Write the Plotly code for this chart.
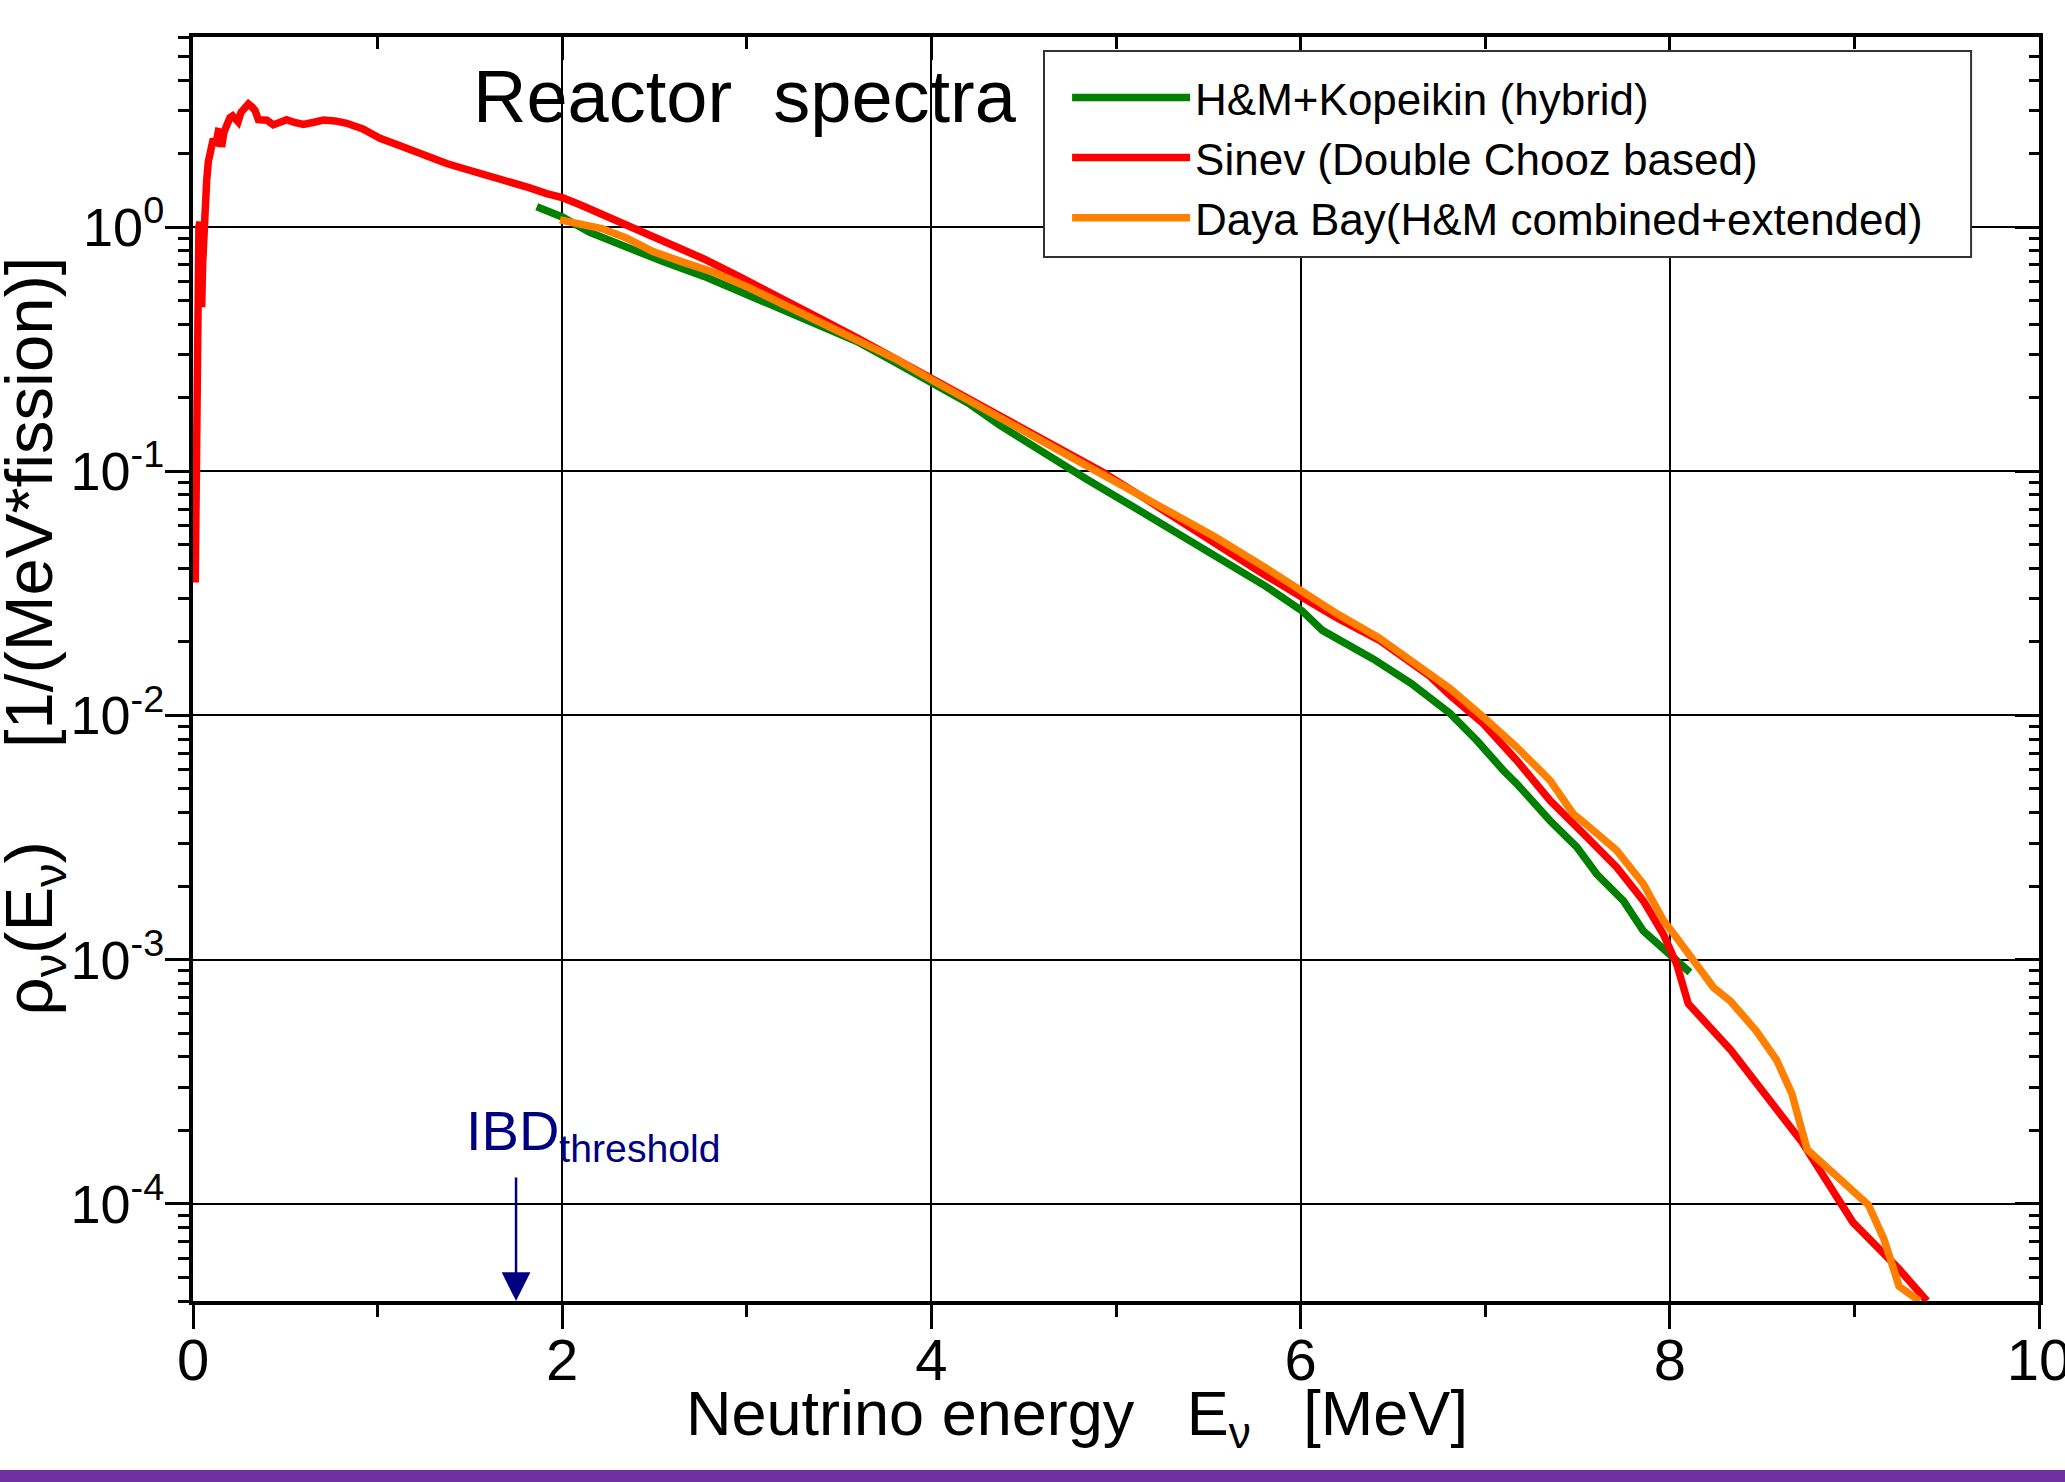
import numpy as np
import plotly.graph_objects as go

# ---------------- data ----------------
red_x = [0.012, 0.016, 0.020, 0.026, 0.032, 0.038, 0.043, 0.047, 0.052, 0.058, 0.066, 0.074,
         0.083, 0.092, 0.100, 0.110, 0.122, 0.137, 0.148, 0.155, 0.168, 0.182, 0.200, 0.215,
         0.244, 0.260, 0.273, 0.300, 0.320, 0.336, 0.354, 0.380, 0.400, 0.435, 0.470, 0.507,
         0.550, 0.598, 0.650, 0.706, 0.770, 0.833, 0.920, 1.013, 1.100, 1.193, 1.280, 1.374,
         1.460, 1.555, 1.645, 1.735, 1.820, 1.916, 2.000, 2.100, 2.200, 2.354, 2.550, 2.768,
         2.970, 3.183, 3.390, 3.597, 3.800, 4.000, 4.200, 4.426, 4.680, 4.924, 5.160, 5.394,
         5.600, 5.807, 6.008, 6.200, 6.423, 6.699, 6.809, 6.990, 7.171, 7.351, 7.532, 7.712,
         7.857, 7.965, 8.037, 8.091, 8.100, 8.330, 8.495, 8.716, 8.992, 9.242, 9.393]
red_y = [0.035, 0.10, 0.30, 0.75, 1.00, 1.05, 0.60, 0.47, 0.70, 1.00, 1.20, 1.55,
         1.85, 2.07, 2.05, 2.30, 2.15, 2.46, 2.45, 2.13, 2.45, 2.60, 2.80, 2.85,
         2.70, 2.95, 3.02, 3.19, 3.10, 3.00, 2.75, 2.72, 2.74, 2.62, 2.68, 2.75,
         2.68, 2.63, 2.68, 2.74, 2.72, 2.66, 2.52, 2.31, 2.18, 2.04, 1.93, 1.82,
         1.74, 1.66, 1.60, 1.53, 1.45, 1.37, 1.32, 1.23, 1.14, 1.02, 0.87, 0.74,
         0.62, 0.515, 0.425, 0.352, 0.29, 0.237, 0.195, 0.159, 0.125, 0.0995, 0.077, 0.059,
         0.047, 0.0376, 0.0305, 0.025, 0.0204, 0.0145, 0.0121, 0.00925, 0.00654, 0.00449, 0.00328, 0.00239,
         0.00174, 0.00127, 0.00096, 0.000724, 0.00066, 0.000427, 0.000296, 0.000179, 8.4e-5, 5.4e-5, 4.0e-5]

green_x = [1.862, 2.000, 2.150, 2.354, 2.550, 2.768, 2.970, 3.183, 3.390, 3.597, 3.800, 4.000,
           4.200, 4.372, 4.600, 4.841, 5.100, 5.367, 5.550, 5.814, 6.008, 6.118, 6.395, 6.600,
           6.809, 6.954, 7.098, 7.171, 7.351, 7.496, 7.604, 7.749, 7.857, 7.983, 8.109]
green_y = [1.21, 1.10, 0.95, 0.82, 0.72, 0.628, 0.54, 0.462, 0.395, 0.34, 0.28, 0.229,
           0.19, 0.154, 0.12, 0.0927, 0.071, 0.054, 0.045, 0.0337, 0.0268, 0.0223, 0.017, 0.0135,
           0.0102, 0.0079, 0.00596, 0.00525, 0.00371, 0.00289, 0.00224, 0.00174, 0.00131, 0.00109, 0.000887]

orange_x = [1.988, 2.100, 2.215, 2.350, 2.492, 2.650, 2.824, 3.000, 3.183, 3.390, 3.597, 3.800,
            4.000, 4.200, 4.426, 4.680, 4.924, 5.200, 5.533, 5.807, 6.008, 6.200, 6.423, 6.620,
            6.809, 6.990, 7.171, 7.351, 7.477, 7.532, 7.712, 7.857, 7.965, 8.037, 8.127, 8.236,
            8.330, 8.467, 8.578, 8.661, 8.744, 8.910, 9.076, 9.159, 9.242, 9.352]
orange_y = [1.07, 1.02, 0.986, 0.90, 0.794, 0.72, 0.651, 0.57, 0.488, 0.41, 0.346, 0.29,
            0.237, 0.195, 0.156, 0.123, 0.096, 0.074, 0.054, 0.0404, 0.0322, 0.026, 0.0208, 0.0163,
            0.0129, 0.00985, 0.00741, 0.00542, 0.00395, 0.00366, 0.0028, 0.00204, 0.00145, 0.00123, 0.00099, 0.00077,
            0.000674, 0.000512, 0.000389, 0.000283, 0.000167, 0.00013, 9.9e-5, 7.2e-5, 4.6e-5, 4.0e-5]

series_names = ["H&M+Kopeikin (hybrid)", "Sinev (Double Chooz based)",
                "Daya Bay(H&M combined+extended)"]
series_colors = ["#008000", "#FF0000", "#FF8000"]

x_range = [0, 10]
x_major = [0, 2, 4, 6, 8, 10]
x_minor = [1, 3, 5, 7, 9]
y_min, y_max = 4e-5, 6.0
y_major = [1e-4, 1e-3, 1e-2, 1e-1, 1.0]
y_major_text = ["10<sup>-4</sup>", "10<sup>-3</sup>", "10<sup>-2</sup>", "10<sup>-1</sup>", "10<sup>0</sup>"]
y_minor = [m * 10.0 ** e for e in range(-5, 1) for m in range(2, 10) if y_min <= m * 10.0 ** e <= y_max]

ibd_threshold = 1.75

FONT = "Liberation Sans, Arial, sans-serif"
NB = "\u00a0"

# ---------------- figure ----------------
fig = go.Figure()
for xs, ys, name, col in [(green_x, green_y, series_names[0], series_colors[0]),
                          (red_x, red_y, series_names[1], series_colors[1]),
                          (orange_x, orange_y, series_names[2], series_colors[2])]:
    fig.add_trace(go.Scatter(x=xs, y=ys, mode="lines", name=name,
                             line=dict(color=col, width=7.5), hoverinfo="skip"))

# carrier trace for the mirrored (inside-tick) axes
fig.add_trace(go.Scatter(x=[None], y=[None], xaxis="x2", yaxis="y2",
                         showlegend=False, hoverinfo="skip"))

yr = [np.log10(y_min), np.log10(y_max)]

fig.update_layout(
    width=2065, height=1482,
    margin=dict(l=193, r=26, t=37, b=181, autoexpand=False),
    paper_bgcolor="white", plot_bgcolor="white",
    font=dict(family=FONT, color="black", size=44),
    xaxis=dict(range=x_range, tickvals=x_major, ticks="outside", ticklen=24, tickwidth=3,
               tickcolor="black", showgrid=True, gridcolor="black", gridwidth=2,
               showline=True, linecolor="black", linewidth=4, mirror=True, zeroline=False,
               tickfont=dict(size=58, family=FONT), ticklabelstandoff=-19,
               ticklabeloverflow="allow", automargin=False,
               minor=dict(tickvals=x_minor, ticks="outside", ticklen=12, tickwidth=3,
                          tickcolor="black", showgrid=False)),
    yaxis=dict(type="log", range=yr, tickvals=y_major, ticktext=y_major_text,
               ticks="outside", ticklen=24, tickwidth=3, tickcolor="black",
               showgrid=True, gridcolor="black", gridwidth=2,
               showline=True, linecolor="black", linewidth=4, mirror=True, zeroline=False,
               tickfont=dict(size=54, family=FONT), ticklabelstandoff=-10, automargin=False,
               minor=dict(tickvals=y_minor, ticks="outside", ticklen=11, tickwidth=3,
                          tickcolor="black", showgrid=False)),
    xaxis2=dict(overlaying="x", side="top", anchor="y", range=x_range, tickvals=x_major,
                ticks="inside", ticklen=23, tickwidth=3, tickcolor="black", automargin=False,
                showticklabels=False, showgrid=False, showline=False, zeroline=False,
                minor=dict(tickvals=x_minor, ticks="inside", ticklen=12, tickwidth=3,
                           tickcolor="black", showgrid=False)),
    yaxis2=dict(overlaying="y", side="right", anchor="x", type="log", range=yr,
                tickvals=y_major, ticks="inside", ticklen=24, tickwidth=3, tickcolor="black",
                showticklabels=False, showgrid=False, showline=False, zeroline=False,
                automargin=False,
                minor=dict(tickvals=y_minor, ticks="inside", ticklen=10, tickwidth=3,
                           tickcolor="black", showgrid=False)),
    legend=dict(x=0.4735, y=0.980, xanchor="left", yanchor="top",
                bgcolor="rgba(0,0,0,0)", borderwidth=0,
                font=dict(size=44, family=FONT, color="black"),
                itemwidth=118, tracegroupgap=0),
    showlegend=True,
)

annotations = [
    # chart title inside the plot
    dict(text="Reactor" + NB + NB + "spectra", xref="paper", yref="paper",
         x=0.1506, y=0.953, xanchor="left", yanchor="middle", showarrow=False,
         font=dict(size=74, family=FONT, color="black")),
    # x title
    dict(text="Neutrino energy" + NB * 3 + "E<sub>ν</sub>" + NB * 3 + "[MeV]",
         xref="paper", yref="paper", x=0.479, y=-0.092, xanchor="center", yanchor="middle",
         showarrow=False, font=dict(size=63, family=FONT, color="black")),
    # y title
    dict(text="ρ<sub>ν</sub>(E<sub>ν</sub>)" + NB * 5 + "[1/(MeV*fission)]",
         xref="paper", yref="paper", x=-0.0865, y=0.526, xanchor="center", yanchor="middle",
         textangle=-90, showarrow=False, font=dict(size=67, family=FONT, color="black")),
    # IBD threshold arrow
    dict(text="", x=ibd_threshold, y=np.log10(y_min), xref="x", yref="y",
         showarrow=True, ax=0, ay=-125, axref="pixel", ayref="pixel",
         arrowhead=2, arrowsize=2.3, arrowwidth=2.5, arrowcolor="#000080"),
    dict(text="IBD<sub>threshold</sub>", x=1.47, y=np.log10(1.93e-4), xref="x", yref="y",
         xanchor="left", yanchor="middle", showarrow=False,
         font=dict(size=56, family=FONT, color="#000080")),
]
fig.update_layout(annotations=annotations)

# legend frame (drawn as a box so its padding matches the reference)
fig.add_shape(type="rect", xref="paper", yref="paper", x0=0.461, x1=0.9632,
              y0=0.826, y1=0.9889, fillcolor="white", line=dict(color="#333333", width=2),
              layer="above")

# purple strip at the bottom of the slide
fig.add_shape(type="rect", xref="paper", yref="paper", x0=-0.105, x1=1.02,
              y0=-0.1432, y1=-0.1337, fillcolor="#7030A0", line=dict(width=0), layer="above")

fig.write_html("out.html")
